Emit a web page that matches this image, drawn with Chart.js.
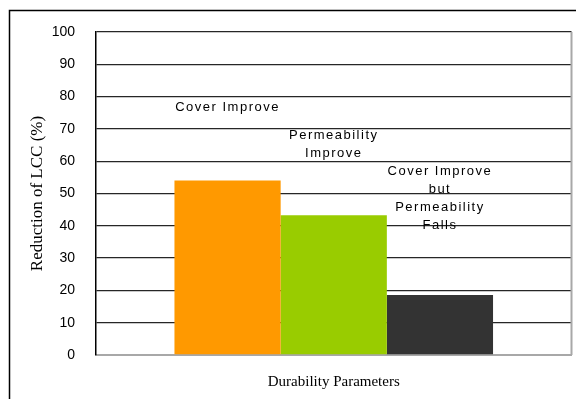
<!DOCTYPE html>
<html>
<head>
<meta charset="utf-8">
<script src="https://cdn.jsdelivr.net/npm/chart.js@4/dist/chart.umd.min.js"></script>
<style>
  html, body { margin: 0; padding: 0; background: #fff; }
  #wrap { width: 576px; height: 399px; }
</style>
</head>
<body>
<div id="wrap"><canvas id="lcc_chart" width="576" height="399"></canvas></div>
<script>
    // LCC reduction per durability scenario
    const categories = [''];
    const seriesNames = ['Cover Improve', 'Permeability Improve', 'Cover Improve but Permeability Falls'];
    const reductions = [54, 43.3, 18.6];
    const barColors = ['#ff9900', '#99cc00', '#333333'];
    // text above each bar, one entry per line, with the y value it sits at
    const noteLines = [
        ['Cover Improve'],
        ['Permeability', 'Improve'],
        ['Cover Improve', 'but', 'Permeability', 'Falls']
    ];
    const noteLevels = [
        [76.8],
        [68.1, 62.5],
        [56.7, 51.4, 45.8, 40.2]
    ];
    const yTicks = [0, 10, 20, 30, 40, 50, 60, 70, 80, 90, 100];

    const data = {
        labels: categories,
        datasets: seriesNames.map(function (name, i) {
            return {
                label: name,
                data: [reductions[i]],
                backgroundColor: barColors[i],
                borderWidth: 0,
                barPercentage: 1,
                categoryPercentage: 0.67
            };
        })
    };

    // outer frame plus the grey right edge of the plot
    const framePlugin = {
        id: 'frame',
        beforeDraw: function (chart) {
            const ctx = chart.ctx;
            ctx.save();
            ctx.strokeStyle = '#000';
            ctx.lineWidth = 1.5;
            ctx.beginPath();
            ctx.moveTo(9.5, 399);
            ctx.lineTo(9.5, 10.5);
            ctx.lineTo(576, 10.5);
            ctx.stroke();
            ctx.restore();
        },
        afterDatasetsDraw: function (chart) {
            const ctx = chart.ctx;
            const area = chart.chartArea;
            ctx.save();
            ctx.strokeStyle = '#a8a8a8';
            ctx.lineWidth = 2;
            ctx.beginPath();
            ctx.moveTo(area.right, area.top);
            ctx.lineTo(area.right, area.bottom);
            ctx.stroke();
            ctx.restore();
        }
    };

    // series names written above the bars
    const notesPlugin = {
        id: 'notes',
        afterDatasetsDraw: function (chart) {
            const ctx = chart.ctx;
            const yScale = chart.scales.y;
            ctx.save();
            ctx.font = '13px "Liberation Sans", Arial, sans-serif';
            ctx.fillStyle = '#000';
            ctx.textAlign = 'center';
            ctx.textBaseline = 'middle';
            if ('letterSpacing' in ctx) ctx.letterSpacing = '1.5px';
            noteLines.forEach(function (lines, i) {
                const bar = chart.getDatasetMeta(i).data[0];
                lines.forEach(function (line, j) {
                    ctx.fillText(line, bar.x, yScale.getPixelForValue(noteLevels[i][j]));
                });
            });
            ctx.restore();
        }
    };

    const config = {
        type: 'bar',
        data: data,
        options: {
            responsive: false,
            animation: false,
            layout: {
                padding: { top: 32, right: 4.5, left: 0, bottom: 0 }
            },
            plugins: {
                legend: { display: false },
                tooltip: { enabled: false }
            },
            scales: {
                x: {
                    afterFit: function (scale) { scale.height = 44; },
                    grid: { display: false },
                    border: { display: true, color: '#a8a8a8', width: 2 },
                    ticks: { display: false },
                    title: {
                        display: true,
                        text: 'Durability Parameters',
                        color: '#000',
                        font: { family: '"Liberation Serif", "Times New Roman", serif', size: 15 },
                        padding: { top: 0, bottom: 8 }
                    }
                },
                y: {
                    min: 0,
                    max: 100,
                    afterFit: function (scale) { scale.width = 96; },
                    afterBuildTicks: function (scale) {
                        scale.ticks = yTicks.map(function (v) { return { value: v }; });
                    },
                    grid: {
                        color: '#262626',
                        lineWidth: 1.3,
                        drawTicks: false
                    },
                    border: { display: true, color: '#000', width: 1.5 },
                    ticks: {
                        color: '#000',
                        padding: 21,
                        font: { family: '"Liberation Sans", Arial, sans-serif', size: 14 }
                    },
                    title: {
                        display: true,
                        text: 'Reduction of LCC (%)',
                        color: '#000',
                        font: { family: '"Liberation Serif", "Times New Roman", serif', size: 17 },
                        padding: { top: 27, bottom: 0 }
                    }
                }
            }
        },
        plugins: [framePlugin, notesPlugin]
    };

    const lcc_chart = new Chart(
        document.getElementById('lcc_chart'),
        config
    );
</script>
</body>
</html>
